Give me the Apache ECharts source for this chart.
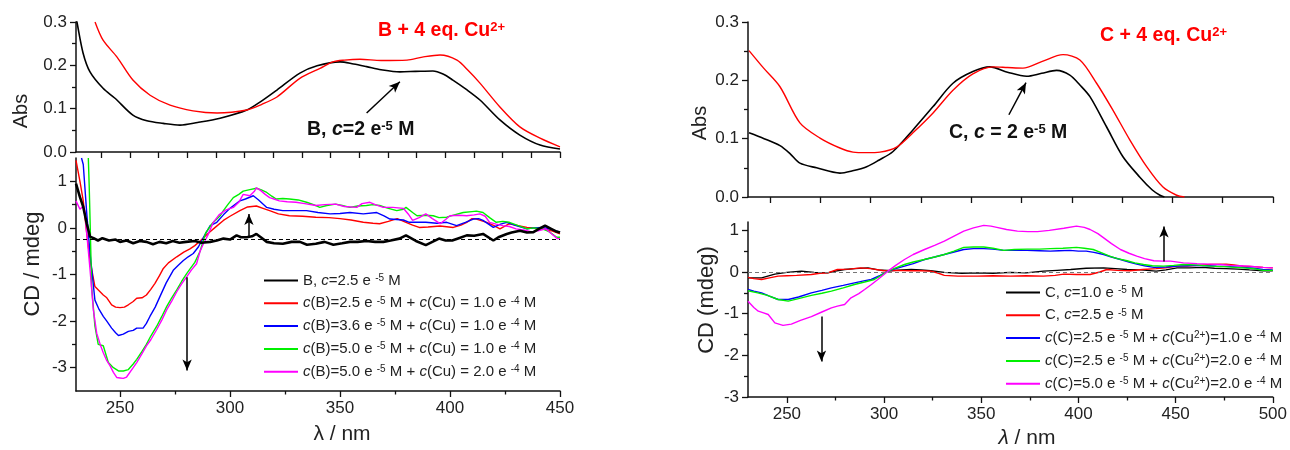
<!DOCTYPE html>
<html>
<head>
<meta charset="utf-8">
<script src="https://cdn.jsdelivr.net/npm/echarts@6/dist/echarts.min.js"></script>
<style>html,body{margin:0;background:#fff}#main{width:1290px;height:450px}</style>
</head>
<body>
<div id="main"></div>
<script>
// UV-Vis (Abs) + CD spectra of B and C, with and without Cu2+

// --- tick values ---
const absTicksB = [250,262.5,275,287.5,300,312.5,325,337.5,350,362.5,375,387.5,400,412.5,425,437.5,450];
const absTicksC = [250,275,300,325,350,375,400,425,450,475,500];
const cdTicksB = [250,300,350,400,450];
const cdMinorB = [275,325,375,425];
const cdTicksC = [250,300,350,400,450,500];
const cdMinorC = [275,325,375,425,475];
const absY = [0,0.1,0.2,0.3];
const absYMinor = [0.05,0.15,0.25];
const cdY = [-3,-2,-1,0,1];
const cdYMinor = [-2.5,-1.5,-0.5,0.5];

// --- Abs, B (top left) ---
const absB = [[239,0.31],[239.4,0.30],[242.1,0.228],[245.1,0.185],[250.8,0.147],[256,0.124],[263.8,0.085],[269.9,0.072],[277,0.066],[284.3,0.062],[292,0.068],[301.8,0.078],[313.5,0.097],[320,0.118],[326.6,0.143],[336.6,0.182],[344.1,0.199],[354.1,0.208],[360,0.203],[365.7,0.197],[372,0.19],[380.2,0.185],[387,0.186],[394.6,0.187],[399,0.18],[403.3,0.166],[409,0.145],[415.1,0.12],[423.8,0.074],[432.5,0.039],[441.3,0.016],[450,0.007]];
const absBCu = [[247.3,0.30],[250.8,0.258],[256.9,0.219],[263.8,0.166],[271.3,0.131],[280,0.108],[290,0.095],[300.5,0.09],[313.5,0.097],[320,0.11],[326.6,0.127],[336.6,0.17],[345.4,0.193],[351,0.208],[356,0.212],[362.8,0.214],[372,0.211],[383.3,0.212],[390,0.219],[397.7,0.224],[405.1,0.212],[410,0.188],[415.1,0.159],[423.8,0.104],[432.5,0.058],[441.3,0.032],[450,0.012]];

// --- Abs, C (top right) ---
const absC = [[239.5,0.11],[247,0.1],[254.9,0.088],[260,0.074],[264.8,0.058],[273.1,0.05],[284.7,0.041],[291,0.045],[298,0.052],[304,0.063],[311.1,0.078],[321,0.115],[331,0.155],[340.9,0.195],[350.8,0.215],[359.3,0.223],[368,0.214],[377.5,0.207],[385,0.212],[392.4,0.217],[399,0.209],[404,0.192],[409,0.172],[417.3,0.12],[425.4,0.069],[433.8,0.034],[440,0.012],[443.8,0.003],[446,0]];
const absCCu = [[239.5,0.251],[247,0.22],[254.9,0.189],[264.8,0.127],[274.8,0.101],[284.7,0.084],[291.2,0.077],[298,0.076],[304.6,0.077],[313.1,0.086],[321,0.11],[331,0.144],[340.9,0.183],[350.8,0.211],[360.8,0.223],[368,0.222],[375.7,0.221],[385,0.232],[395.6,0.244],[404,0.235],[412.3,0.195],[420.4,0.149],[428.8,0.098],[437.2,0.052],[445.3,0.017],[452.1,0.003],[456,0]];

// --- CD, B (bottom left) ---
const cdB = [[230,0.95],[231.8,0.66],[233.3,0.45],[234.9,0.09],[236.4,-0.19],[238,-0.22],[240,-0.27],[242,-0.22],[245,-0.27],[248,-0.25],[250,-0.3],[253,-0.27],[256,-0.33],[259,-0.28],[262,-0.3],[265,-0.35],[268,-0.3],[271,-0.33],[274,-0.28],[277,-0.32],[280,-0.3],[284,-0.28],[287,-0.32],[291,-0.3],[294,-0.27],[297,-0.23],[300,-0.25],[303,-0.16],[305,-0.2],[307.6,-0.2],[310,-0.18],[312,-0.13],[314,-0.2],[316.7,-0.3],[320,-0.33],[324,-0.34],[328,-0.3],[331.8,-0.3],[335,-0.36],[339,-0.34],[343,-0.3],[347,-0.36],[351,-0.33],[354.5,-0.3],[358,-0.3],[362,-0.28],[366,-0.3],[369.7,-0.3],[373,-0.27],[377,-0.23],[380,-0.16],[384.5,-0.28],[389,-0.37],[392,-0.3],[395,-0.23],[398,-0.27],[401,-0.27],[404,-0.22],[407.6,-0.16],[411,-0.17],[415,-0.13],[419.7,-0.27],[422,-0.2],[425.8,-0.13],[428,-0.1],[431.8,-0.06],[435,-0.1],[437.9,-0.09],[440,-0.03],[443.2,0.05],[446,-0.02],[448,-0.07],[450,-0.1]];
const cdBCu1 = [[230,1.45],[231.8,1.0],[233.3,0.58],[234.9,-0.13],[236.4,-0.7],[238.6,-1.26],[240.5,-1.35],[242.4,-1.44],[244,-1.5],[246.2,-1.65],[248,-1.7],[250,-1.71],[252,-1.7],[253.8,-1.65],[256,-1.58],[257.6,-1.51],[260,-1.5],[262,-1.44],[264,-1.32],[265.9,-1.19],[268,-1.02],[269.7,-0.87],[272,-0.75],[275.8,-0.62],[279,-0.52],[281.8,-0.45],[284,-0.38],[286.4,-0.28],[290,-0.12],[293,0.0],[297,0.16],[300,0.25],[304.5,0.37],[308,0.45],[312,0.47],[315,0.42],[318,0.37],[322,0.3],[327,0.26],[333,0.25],[339,0.23],[345,0.22],[350,0.2],[355,0.17],[360.6,0.12],[365,0.1],[368,0.09],[372,0.14],[376,0.2],[380,0.12],[383,0.06],[386,0.01],[390,0.02],[395.5,0.04],[401.5,0.01],[405,0.06],[407.6,0.12],[410,0.2],[412,0.19],[416.7,0.12],[420,0.05],[422.7,-0.02],[427,0.09],[431,0.05],[435,0.01],[438,0.0],[442.4,-0.02],[446,-0.06],[450,-0.13]];
const cdBCu2 = [[232.5,1.5],[233.3,1.36],[234.9,0.3],[236.4,-0.55],[238.6,-1.55],[240.5,-1.75],[242.4,-1.9],[244,-2.0],[246.2,-2.15],[248,-2.25],[249.3,-2.31],[251.5,-2.28],[253.8,-2.22],[256,-2.2],[257.6,-2.15],[260.5,-2.15],[262,-2.05],[263.6,-1.9],[266,-1.7],[268.2,-1.47],[271,-1.18],[274.2,-0.91],[276.5,-0.8],[278.8,-0.7],[281,-0.62],[283.3,-0.55],[285.6,-0.41],[288,-0.2],[291,0.05],[294,0.12],[297,0.28],[300,0.42],[304.5,0.58],[307,0.62],[310.6,0.69],[313,0.6],[316.7,0.44],[320,0.4],[324,0.37],[330,0.37],[334.8,0.37],[340,0.33],[345.5,0.3],[350,0.31],[354.5,0.33],[360.6,0.3],[366.7,0.33],[370,0.26],[372.7,0.19],[378.8,0.17],[381.5,0.12],[385,0.12],[389,0.12],[394,0.1],[398.5,0.12],[403,0.05],[407,0.12],[410.6,0.19],[413,0.2],[415,0.16],[419.7,0.01],[423,0.08],[425.8,0.12],[430,0.05],[435,-0.02],[438,0.0],[442,0.01],[446,-0.03],[450,-0.09]];
const cdBCu3 = [[235.6,1.5],[236,0.9],[236.4,0.16],[237.1,-1.26],[238.6,-2.11],[240.1,-2.5],[242.4,-2.53],[244.7,-2.89],[247,-3.0],[249.3,-3.07],[251.5,-3.07],[253.8,-3.04],[256,-2.92],[257.6,-2.82],[260,-2.65],[262,-2.5],[264,-2.32],[266.7,-2.11],[269,-1.9],[271.2,-1.69],[273.5,-1.5],[275.8,-1.33],[278,-1.15],[280.3,-0.98],[282,-0.87],[284,-0.74],[286.4,-0.5],[289,-0.1],[292,0.1],[295.5,0.26],[297,0.37],[299,0.5],[301.5,0.65],[304,0.72],[306,0.79],[309,0.82],[312,0.85],[314,0.82],[316.7,0.76],[319,0.68],[321,0.62],[324,0.63],[327,0.62],[331,0.6],[334.8,0.55],[338,0.5],[340.8,0.44],[344,0.48],[348,0.51],[351,0.48],[354.5,0.44],[358,0.47],[362,0.48],[365,0.5],[368,0.48],[372,0.42],[375.8,0.37],[378.8,0.4],[380,0.44],[383,0.33],[385,0.26],[389,0.27],[392.4,0.26],[395,0.22],[398.5,0.23],[402,0.28],[406,0.33],[410,0.35],[412,0.36],[415,0.33],[418,0.22],[421,0.12],[424,0.14],[427,0.12],[431,0.05],[435,-0.02],[438,0.0],[442,-0.02],[445,-0.08],[448.5,-0.2],[450,-0.2]];
const cdBCu4 = [[230,0.58],[231.8,0.4],[233.3,0.47],[234,0.37],[234.9,-0.13],[236.4,-0.91],[237.9,-1.76],[239.4,-2.26],[241,-2.5],[242.4,-2.68],[244,-2.85],[245.5,-2.96],[247,-3.1],[248.5,-3.21],[250,-3.22],[251.5,-3.23],[253,-3.2],[253.8,-3.18],[256,-3.0],[257.6,-2.89],[260,-2.7],[262,-2.53],[264,-2.4],[266.7,-2.18],[269,-1.98],[271.2,-1.76],[273.5,-1.57],[275.8,-1.37],[278,-1.2],[280.3,-1.05],[282.5,-0.9],[284.8,-0.77],[286.4,-0.5],[288,-0.33],[290,-0.15],[292.4,0.12],[295,0.28],[298,0.38],[301.5,0.44],[304,0.55],[306,0.72],[309,0.69],[311,0.78],[312,0.86],[314,0.8],[316,0.72],[318,0.65],[320,0.62],[322.4,0.58],[326,0.56],[330,0.55],[334,0.52],[339,0.48],[343,0.5],[348,0.51],[352,0.46],[357.6,0.44],[360,0.52],[363.6,0.55],[366,0.5],[369.7,0.44],[374,0.44],[378.8,0.42],[381,0.3],[383,0.16],[386,0.22],[389,0.3],[392,0.2],[395.5,0.09],[398,0.18],[400,0.26],[404,0.27],[407.6,0.26],[411,0.28],[413.6,0.3],[416,0.25],[418,0.12],[421,0.08],[424,0.05],[427,0.03],[430,-0.02],[434,-0.05],[437.6,-0.09],[440,-0.06],[443.5,-0.02],[446,-0.12],[448.8,-0.23],[450,-0.23]];

// --- CD, C (bottom right) ---
const cdC10 = [[230,-0.14],[237,-0.14],[243.8,-0.05],[250,-0.01],[257.5,0.02],[264,-0.01],[271,-0.02],[275,0.02],[279.7,0.06],[285,0.08],[291.7,0.1],[297,0.05],[303.5,0.03],[309,0.05],[314,0.06],[319,0.05],[324,0.03],[331,-0.01],[340,-0.03],[348,-0.02],[356,-0.03],[365,-0.01],[373,-0.02],[382,0.02],[389,0.04],[396,0.06],[404,0.09],[413,0.1],[419,0.08],[425,0.06],[432,0.05],[440,0.02],[445,0.05],[450.7,0.1],[457,0.1],[464,0.11],[470,0.09],[476,0.08],[482,0.07],[488,0.05],[495,0.03],[500,0.03]];
const cdC25 = [[230,-0.13],[233,-0.16],[237,-0.18],[241,-0.14],[245.5,-0.1],[250,-0.09],[255,-0.08],[262.6,-0.06],[267,-0.03],[271,-0.02],[276,0.06],[282,0.07],[288,0.1],[293,0.08],[300,0.03],[306,0.04],[313.7,0.03],[319,0.03],[324,0.02],[328,-0.03],[331,-0.08],[338,-0.1],[348,-0.1],[356,-0.09],[365,-0.1],[373,-0.09],[382,-0.1],[388,-0.08],[392.5,-0.05],[399,-0.06],[406,-0.06],[411,0.0],[414.6,0.06],[420,0.04],[426.6,0.03],[433,0.06],[440,0.08],[445,0.1],[450.7,0.14],[456,0.14],[462,0.16],[467.8,0.18],[476,0.19],[480,0.17],[484.7,0.14],[490,0.13],[495,0.11],[500,0.1]];
const cdCCu1 = [[230,-0.42],[233,-0.46],[237,-0.5],[241,-0.58],[245.5,-0.66],[250.7,-0.66],[256,-0.6],[262.6,-0.5],[268,-0.44],[272.9,-0.38],[279,-0.32],[284.8,-0.26],[289,-0.22],[293.4,-0.18],[298,-0.08],[302,0.02],[306,0.08],[310.5,0.14],[315,0.2],[320.8,0.3],[326,0.36],[331,0.42],[336,0.48],[341,0.54],[346,0.56],[351.3,0.56],[356,0.55],[361.6,0.52],[367,0.52],[373.5,0.52],[380,0.51],[385.5,0.5],[390,0.51],[395.7,0.52],[400,0.5],[404,0.5],[408,0.47],[413,0.42],[417,0.36],[421.6,0.3],[426,0.24],[430,0.19],[434,0.15],[438.8,0.11],[445,0.12],[450.7,0.14],[456,0.15],[461,0.16],[466,0.15],[471,0.14],[478,0.13],[484.7,0.11],[490,0.09],[495,0.06],[500,0.05]];
const cdCCu2 = [[230,-0.45],[235,-0.5],[240,-0.56],[245.5,-0.66],[250.7,-0.7],[256,-0.64],[262.6,-0.56],[268,-0.51],[272.9,-0.46],[279,-0.38],[284.8,-0.3],[290,-0.24],[295,-0.18],[298.5,-0.08],[302,0.02],[306,0.1],[310.5,0.18],[315,0.24],[320.8,0.3],[326,0.36],[331,0.42],[336,0.5],[341,0.59],[346,0.6],[351.3,0.6],[356,0.57],[361.6,0.52],[367,0.54],[373.5,0.55],[380,0.55],[385.5,0.56],[392,0.57],[399,0.59],[403,0.57],[407.6,0.54],[412,0.46],[416,0.38],[420,0.32],[425,0.27],[429,0.22],[433.5,0.18],[438,0.15],[443.7,0.14],[449,0.16],[454,0.18],[460,0.17],[467.8,0.14],[475,0.13],[484.7,0.1],[490,0.08],[495,0.04],[500,0.04]];
const cdC50Cu2 = [[230,-0.7],[233,-0.85],[235.3,-0.94],[238,-0.98],[240.4,-1.02],[243.8,-1.22],[248,-1.28],[252.3,-1.25],[257,-1.16],[262.6,-1.07],[268,-0.96],[272.9,-0.86],[276,-0.82],[279.7,-0.78],[283,-0.62],[287,-0.52],[290,-0.42],[293.5,-0.3],[296.8,-0.18],[302,0.02],[306,0.16],[310.5,0.3],[315,0.42],[320.8,0.54],[326,0.64],[331,0.74],[336,0.86],[341,0.98],[346,1.06],[351.3,1.12],[355,1.1],[358,1.07],[363,1.02],[368.6,0.98],[374,0.97],[378.9,0.97],[385,1.0],[392.5,1.05],[399,1.1],[403,1.07],[406,1.02],[410,0.92],[413,0.82],[417,0.68],[421.6,0.54],[426,0.45],[430,0.38],[434,0.32],[438.8,0.27],[443,0.26],[447.4,0.26],[454,0.22],[461,0.2],[467.8,0.19],[473,0.18],[478,0.16],[483,0.15],[488,0.14],[495,0.11],[500,0.1]];

// --- annotations (arrows and zero lines, data coords) ---
const arrowAbsB = [[365.7,0.09],[380.2,0.162]];
const arrowAbsC = [[368.7,0.141],[377.2,0.196]];
const arrowsCdB = [[[308.6,-0.21],[308.6,0.3]], [[280.5,-1.06],[280.5,-3.06]]];
const arrowsCdC = [[[267.8,-1.07],[267.8,-2.15]], [[444,0.25],[444,1.09]]];
const baseCdB = [[230,-0.25],[450,-0.25]];
const baseCdC = [[230,0],[500,0]];

// legend labels (rich text)
const namesB = {
  'B, c=2.5e-5 M': 'B, {i|c}=2.5 e {sup|-5} M',
  'c(B)=2.5e-5 + Cu 1.0e-4': '{i|c}(B)=2.5 e {sup|-5} M + {i|c}(Cu) = 1.0 e {sup|-4} M',
  'c(B)=3.6e-5 + Cu 1.0e-4': '{i|c}(B)=3.6 e {sup|-5} M + {i|c}(Cu) = 1.0 e {sup|-4} M',
  'c(B)=5.0e-5 + Cu 1.0e-4': '{i|c}(B)=5.0 e {sup|-5} M + {i|c}(Cu) = 1.0 e {sup|-4} M',
  'c(B)=5.0e-5 + Cu 2.0e-4': '{i|c}(B)=5.0 e {sup|-5} M + {i|c}(Cu) = 2.0 e {sup|-4} M'
};
const namesC = {
  'C, c=1.0e-5 M': 'C, {i|c}=1.0 e {sup|-5} M',
  'C, c=2.5e-5 M': 'C, {i|c}=2.5 e {sup|-5} M',
  'c(C)=2.5e-5 + Cu 1.0e-4': '{i|c}(C)=2.5 e {sup|-5} M + {i|c}(Cu{sup|2+})=1.0 e {sup|-4} M',
  'c(C)=2.5e-5 + Cu 2.0e-4': '{i|c}(C)=2.5 e {sup|-5} M + {i|c}(Cu{sup|2+})=2.0 e {sup|-4} M',
  'c(C)=5.0e-5 + Cu 2.0e-4': '{i|c}(C)=5.0 e {sup|-5} M + {i|c}(Cu{sup|2+})=2.0 e {sup|-4} M'
};

const FONT = 'Liberation Sans';
const richLeg = {
  i: {fontFamily: FONT, fontSize: 15, fontStyle: 'italic', color: '#222'},
  sup: {fontFamily: FONT, fontSize: 10, verticalAlign: 'top', color: '#222'}
};

function xAxisDef(grid, min, max, ticks, labels, len, line) {
  return {
    type: 'value', gridIndex: grid, min: min, max: max, position: 'bottom',
    axisLine: {show: line, onZero: false, lineStyle: {color: '#111', width: 1.5}},
    axisTick: {show: true, customValues: ticks, length: len, lineStyle: {color: '#111', width: 1.3}},
    axisLabel: labels ? {customValues: labels, color: '#222', fontSize: 17, fontFamily: FONT, margin: 9} : {show: false},
    splitLine: {show: false}
  };
}
function yAxisDef(grid, min, max, ticks, labels, len, line, fmt) {
  return {
    type: 'value', gridIndex: grid, min: min, max: max, position: 'left',
    axisLine: {show: line, onZero: false, lineStyle: {color: '#111', width: 1.5}},
    axisTick: {show: true, customValues: ticks, length: len, lineStyle: {color: '#111', width: 1.3}},
    axisLabel: labels ? {customValues: labels, color: '#222', fontSize: 17, fontFamily: FONT, margin: 9, formatter: fmt} : {show: false},
    splitLine: {show: false}
  };
}

const xAxes = [
  xAxisDef(0, 239, 450, absTicksB, null, 6, true),
  xAxisDef(1, 230, 450, cdTicksB, cdTicksB, 6, true),
  xAxisDef(1, 230, 450, cdMinorB, null, 3.5, false),
  xAxisDef(2, 239, 500, absTicksC, null, 6, true),
  xAxisDef(3, 230, 500, cdTicksC, cdTicksC, 6, true),
  xAxisDef(3, 230, 500, cdMinorC, null, 3.5, false)
];
Object.assign(xAxes[1], {name: 'λ / nm', nameLocation: 'middle', nameGap: 33,
  nameTextStyle: {fontSize: 21, fontFamily: FONT, color: '#222', padding: [0, 0, 0, 48]}});
Object.assign(xAxes[4], {name: '{l|λ} / nm', nameLocation: 'middle', nameGap: 31,
  nameTextStyle: {fontSize: 21, fontFamily: FONT, color: '#222', padding: [0, 0, 0, 33],
    rich: {l: {fontSize: 21, fontFamily: FONT, fontStyle: 'italic', color: '#222'}}}});

const absFmt = v => v.toFixed(1);
const yAxes = [
  yAxisDef(0, 0, 0.3, absY, absY, 6, true, absFmt),
  yAxisDef(0, 0, 0.3, absYMinor, null, 4, false),
  yAxisDef(1, -3.5, 1.5, cdY, cdY, 6, true),
  yAxisDef(1, -3.5, 1.5, cdYMinor, null, 4, false),
  yAxisDef(2, 0, 0.3, absY, absY, 6, true, absFmt),
  yAxisDef(2, 0, 0.3, absYMinor, null, 4, false),
  yAxisDef(3, -3, 1.2, cdY, cdY, 6, true),
  yAxisDef(3, -3, 1.2, cdYMinor, null, 4, false)
];
Object.assign(yAxes[0], {name: 'Abs', nameLocation: 'middle', nameGap: 45,
  nameTextStyle: {fontSize: 20, fontFamily: FONT, color: '#222', padding: [0, 48, 0, 0]}});
Object.assign(yAxes[2], {name: 'CD / mdeg', nameLocation: 'middle', nameGap: 32,
  nameTextStyle: {fontSize: 22, fontFamily: FONT, color: '#222', padding: [0, 0, 0, 21]}});
Object.assign(yAxes[4], {name: 'Abs', nameLocation: 'middle', nameGap: 38,
  nameTextStyle: {fontSize: 20, fontFamily: FONT, color: '#222', padding: [0, 27, 0, 0]}});
Object.assign(yAxes[6], {name: 'CD (mdeg)', nameLocation: 'middle', nameGap: 30,
  nameTextStyle: {fontSize: 22, fontFamily: FONT, color: '#222', padding: [0, 0, 0, 19]}});

function line(name, data, color, xi, yi, width, extra) {
  const s = {
    name: name, type: 'line', data: data, xAxisIndex: xi, yAxisIndex: yi,
    symbol: 'none', smooth: false, animation: false,
    lineStyle: {color: color, width: width}, itemStyle: {color: color}
  };
  return Object.assign(s, extra || {});
}
function arrowLines(list, color) {
  return list.map(a => [
    {coord: a[0], symbol: 'none', lineStyle: {color: color, width: 1.5, type: 'solid'}},
    {coord: a[1], symbol: 'arrow', symbolSize: [7, 11]}
  ]);
}
function dashLine(b, color) {
  return [{coord: b[0], symbol: 'none', lineStyle: {color: color, width: 1, type: [4, 3]}},
          {coord: b[1], symbol: 'none'}];
}

const series = [
  line('absB', absB, '#000', 0, 0, 1.6, {smooth: 0.3, markLine: {silent: true, animation: false, label: {show: false},
    data: arrowLines([arrowAbsB], '#000')}}),
  line('absBCu', absBCu, '#ff0000', 0, 0, 1.4, {smooth: 0.3}),
  line('C abs', absC, '#000', 3, 4, 1.6, {smooth: 0.3, markLine: {silent: true, animation: false, label: {show: false},
    data: arrowLines([arrowAbsC], '#000')}}),
  line('C abs Cu', absCCu, '#ff0000', 3, 4, 1.4, {smooth: 0.3}),

  line('c(B)=2.5e-5 + Cu 1.0e-4', cdBCu1, '#ff0000', 1, 2, 1.4),
  line('c(B)=3.6e-5 + Cu 1.0e-4', cdBCu2, '#0000ff', 1, 2, 1.4),
  line('c(B)=5.0e-5 + Cu 1.0e-4', cdBCu3, '#00f000', 1, 2, 1.4),
  line('c(B)=5.0e-5 + Cu 2.0e-4', cdBCu4, '#ff00ff', 1, 2, 1.4),
  line('B, c=2.5e-5 M', cdB, '#000', 1, 2, 2.6, {z: 3, markLine: {silent: true, animation: false, label: {show: false},
    data: [dashLine(baseCdB, '#000')].concat(arrowLines(arrowsCdB, '#000'))}}),

  line('C, c=1.0e-5 M', cdC10, '#000', 4, 6, 1.4, {markLine: {silent: true, animation: false, label: {show: false},
    data: [dashLine(baseCdC, '#777')].concat(arrowLines(arrowsCdC, '#000'))}}),
  line('C, c=2.5e-5 M', cdC25, '#ff0000', 4, 6, 1.4),
  line('c(C)=2.5e-5 + Cu 1.0e-4', cdCCu1, '#0000ff', 4, 6, 1.4),
  line('c(C)=2.5e-5 + Cu 2.0e-4', cdCCu2, '#00f000', 4, 6, 1.4),
  line('c(C)=5.0e-5 + Cu 2.0e-4', cdC50Cu2, '#ff00ff', 4, 6, 1.4)
];

function legendDef(names, left, top) {
  return {
    data: Object.keys(names), orient: 'vertical', left: left, top: top,
    itemWidth: 34, itemHeight: 14, itemGap: 7.8, selectedMode: false,
    itemStyle: {opacity: 0},
    formatter: n => names[n],
    textStyle: {fontFamily: FONT, fontSize: 15, color: '#222', lineHeight: 15, rich: richLeg}
  };
}

const richAnno = {
  sup: {fontFamily: FONT, fontSize: 13, fontWeight: 'bold', verticalAlign: 'top'},
  i: {fontFamily: FONT, fontSize: 19.5, fontWeight: 'bold', fontStyle: 'italic'}
};
function anno(text, left, top, color) {
  return {type: 'text', left: left, top: top, silent: true,
    style: {text: text, fill: color, font: 'bold 19.5px "Liberation Sans"',
      rich: JSON.parse(JSON.stringify(richAnno))}};
}

const chart = echarts.init(document.getElementById('main'), null, {renderer: 'canvas'});
chart.setOption({
  backgroundColor: '#fff',
  animation: false,
  grid: [
    {left: 76, top: 22, width: 484, height: 130},
    {left: 76, top: 158, width: 484, height: 235},
    {left: 748, top: 22, width: 525, height: 175},
    {left: 748, top: 222, width: 525, height: 175}
  ],
  xAxis: xAxes,
  yAxis: yAxes,
  legend: [legendDef(namesB, 258, 268), legendDef(namesC, 1000, 280)],
  series: series,
  graphic: [
    anno('B + 4 eq. Cu{sup|2+}', 378, 21, '#ff0000'),
    anno('B, {i|c}=2 e{sup|-5} M', 307, 120, '#111'),
    anno('C + 4 eq. Cu{sup|2+}', 1100, 26, '#ff0000'),
    anno('C, {i|c} = 2 e{sup|-5} M', 949, 123, '#111')
  ]
});
</script>
</body>
</html>
